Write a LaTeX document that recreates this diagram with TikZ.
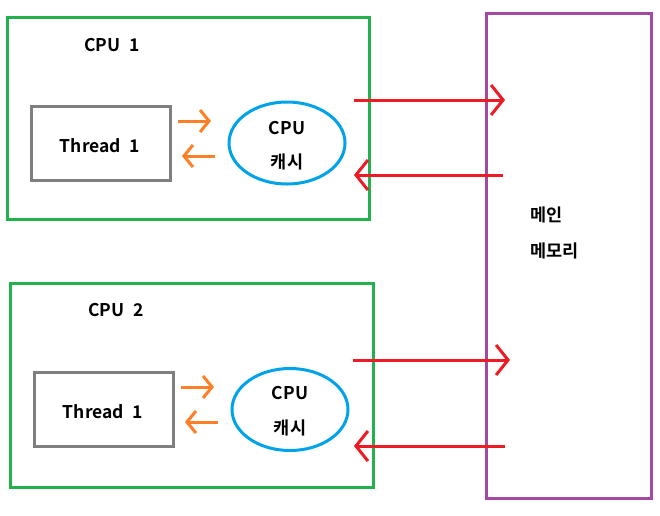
\documentclass[tikz,border=0pt]{standalone}
\usepackage{fontspec}
\setmainfont{Noto Sans CJK KR}[BoldFont={Noto Sans CJK KR Bold}]
\usetikzlibrary{arrows.meta,shapes.geometric}
\definecolor{pgreen}{HTML}{22B14C}
\definecolor{pgray}{HTML}{7F7F7F}
\definecolor{pblue}{HTML}{00A2E8}
\definecolor{pred}{HTML}{ED1C24}
\definecolor{porange}{HTML}{FF7F27}
\definecolor{ppurple}{HTML}{A349A4}
\tikzset{
  lbl/.style={font=\bfseries\fontsize{17.5}{20}\selectfont, inner sep=0pt},
  cpubox/.style={draw=pgreen, line width=3pt, inner sep=0pt},
  thbox/.style={draw=pgray, line width=3pt, inner sep=0pt},
  cache/.style={draw=pblue, line width=3pt, ellipse, inner sep=0pt, minimum width=116pt, minimum height=82pt},
  membox/.style={draw=ppurple, line width=3pt, inner sep=0pt},
  redarr/.style={draw=pred, line width=3pt, -{Straight Barb[length=12pt,width=30pt,line width=3pt]}},
  orarr/.style={draw=porange, line width=3pt, -{Straight Barb[length=9pt,width=22pt,line width=3pt]}},
}
\begin{document}
\begin{tikzpicture}[x=1pt,y=-1pt]
\useasboundingbox (0,0) rectangle (660,515);
% CPU boxes
\node[cpubox, minimum width=362pt, minimum height=202pt] (cpu1) at (188,118) {};
\node[cpubox, minimum width=363pt, minimum height=204pt] (cpu2) at (191.5,385) {};
\node[lbl] (cpu1l) at (112,45) {CPU\hspace{0.5em}1};
\node[lbl] (cpu2l) at (116,310) {CPU\hspace{0.5em}2};
% Thread boxes
\node[thbox, minimum width=139pt, minimum height=74pt] (th1) at (100.5,143) {};
\node[thbox, minimum width=139pt, minimum height=74pt] (th2) at (103.5,409) {};
\node[lbl] (th1l) at (100,146) {Thread\hspace{0.5em}1};
\node[lbl] (th2l) at (103,412) {Thread\hspace{0.5em}1};
% caches
\node[cache] (c1) at (287,143) {};
\node[cache] (c2) at (290,409.5) {};
\node[lbl] (c1a) at (287,128) {CPU};
\node[lbl] (c1b) at (287,162) {캐시};
\node[lbl] (c2a) at (290,393) {CPU};
\node[lbl] (c2b) at (290,428) {캐시};
% memory
\node[membox, minimum width=165pt, minimum height=485pt] (mem) at (568.5,255.5) {};
\node[lbl, anchor=west] (m1) at (530,215) {메인};
\node[lbl, anchor=west] (m2) at (530,251) {메모리};
% orange arrows
\coordinate (o1s) at (178,121); \coordinate (o1e) at (211,121);
\coordinate (o2s) at (215,156); \coordinate (o2e) at (182,156);
\coordinate (o3s) at (181,387); \coordinate (o3e) at (214,387);
\coordinate (o4s) at (218,422); \coordinate (o4e) at (185,422);
\draw[orarr] (o1s) -- (o1e);
\draw[orarr] (o2s) -- (o2e);
\draw[orarr] (o3s) -- (o3e);
\draw[orarr] (o4s) -- (o4e);
% red arrows
\coordinate (r1s) at (354,100); \coordinate (r1e) at (505,100);
\coordinate (r2s) at (503,175); \coordinate (r2e) at (354,175);
\coordinate (r3s) at (353,360); \coordinate (r3e) at (510,360);
\coordinate (r4s) at (505,446); \coordinate (r4e) at (354,446);
\draw[redarr] (r1s) -- (r1e);
\draw[redarr] (r2s) -- (r2e);
\draw[redarr] (r3s) -- (r3e);
\draw[redarr] (r4s) -- (r4e);
\end{tikzpicture}
\end{document}
